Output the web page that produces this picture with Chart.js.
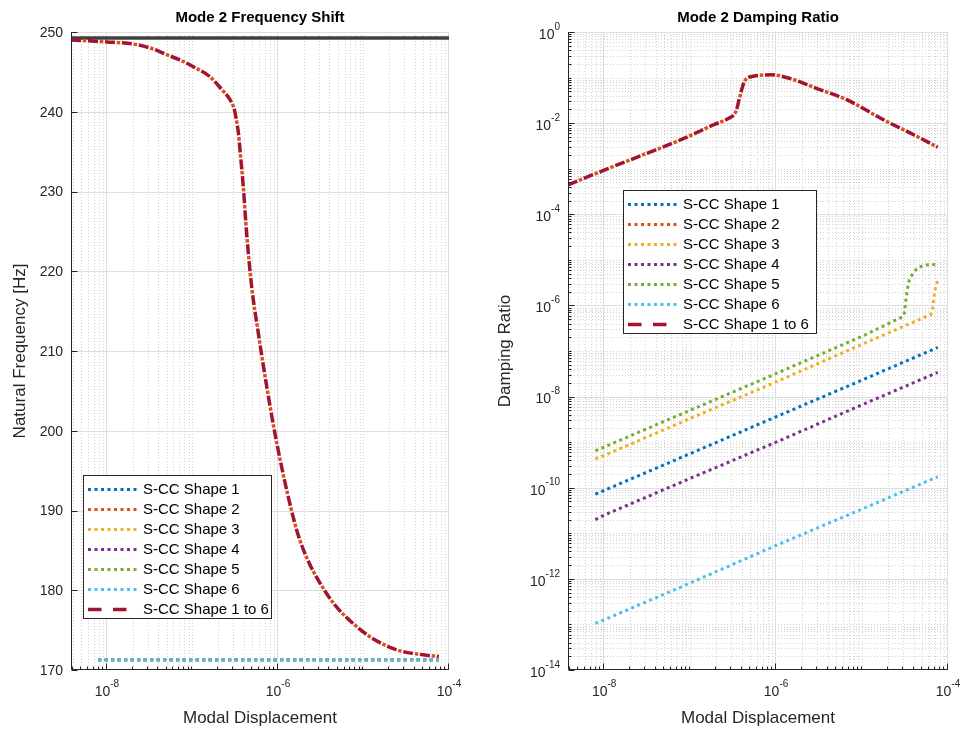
<!DOCTYPE html>
<html>
<head>
<meta charset="utf-8">
<script src="https://cdn.jsdelivr.net/npm/chart.js@4.4.1/dist/chart.umd.min.js"></script>
<style>
  html, body { margin: 0; padding: 0; background: #fff; }
  #wrap { position: relative; width: 964px; height: 732px; }
  .pane { position: absolute; top: 0; width: 482px; height: 732px; }
</style>
</head>
<body>
<div id="wrap">
  <div class="pane" style="left:0"><canvas id="freqChart" width="482" height="732"></canvas></div>
  <div class="pane" style="left:482px"><canvas id="dampChart" width="482" height="732"></canvas></div>
</div>
<script>
// ---- values ----
const shapeNames = ['S-CC Shape 1', 'S-CC Shape 2', 'S-CC Shape 3', 'S-CC Shape 4', 'S-CC Shape 5', 'S-CC Shape 6', 'S-CC Shape 1 to 6'];
const shapeColors = ['#0072BD', '#D95319', '#EDB120', '#7E2F8E', '#77AC30', '#4DBEEE', '#A2142F'];

// tick labels
const xTickExps = [-8, -6, -4];
const freqTicks = [170, 180, 190, 200, 210, 220, 230, 240, 250];
const dampTickExps = [-14, -12, -10, -8, -6, -4, -2, 0];

// left panel: natural frequency [Hz]
const linearX = [3.8e-9, 1e-4];
const linearFreq = [249.25, 249.25];

const flatX = [7.9e-9, 1e-7, 1e-6, 1e-5, 7.6e-5];
const freqShape1 = [171.3, 171.3, 171.3, 171.3, 171.3];
const freqShape3 = [171.3, 171.3, 171.3, 171.3, 171.3];
const freqShape4 = [171.3, 171.3, 171.3, 171.3, 171.3];
const freqShape5 = [171.3, 171.3, 171.3, 171.3, 171.3];
const freqShape6 = [171.3, 171.3, 171.3, 171.3, 171.3];

const coupledFreqX = [3.8e-9, 1e-8, 2e-8, 3.4e-8, 4.9e-8, 7.1e-8, 1e-7, 1.6e-7, 2.2e-7, 2.6e-7, 2.95e-7, 3.1e-7, 3.25e-7,
  3.45e-7, 3.6e-7, 3.93e-7, 4.3e-7, 4.92e-7, 5.9e-7, 7.4e-7, 9.2e-7, 1.32e-6, 1.8e-6, 3.7e-6, 9.1e-6, 2.2e-5, 5e-5, 7.6e-5];
const freqCoupled = [249.0, 248.75, 248.5, 247.9, 247.2, 246.5, 245.7, 244.4, 242.8, 241.9, 240.9, 240.2, 239.1,
  237.3, 235.2, 230.6, 224.8, 218.1, 212.2, 205.5, 199.7, 191.7, 186.3, 179.6, 175.1, 172.7, 171.9, 171.7];
// shape 2 sits right on the combined curve
const freqShape2 = freqCoupled.slice();

// right panel: damping ratio
const dampX = [7.9e-9, 1e-8, 1e-7, 1e-6, 1e-5, 7.6e-5];
const dampShape1 = [7.2e-11, 8.7e-11, 5.6e-10, 3.6e-9, 2.3e-8, 1.2e-7];
const dampShape4 = [2.0e-11, 2.5e-11, 1.6e-10, 1.0e-9, 6.6e-9, 3.4e-8];
const dampShape6 = [1.05e-13, 1.26e-13, 8.1e-13, 5.4e-12, 3.4e-11, 1.74e-10];
const dampX3 = [7.9e-9, 1e-8, 1e-7, 1e-6, 1e-5, 6.3e-5, 6.6e-5, 6.8e-5, 7.0e-5, 7.2e-5, 7.6e-5];
const dampShape3 = [4.3e-10, 5.1e-10, 3.3e-9, 2.1e-8, 1.4e-7, 6.3e-7, 8.5e-7, 1.3e-6, 2.0e-6, 2.6e-6, 3.5e-6];
const dampX5 = [7.9e-9, 1e-8, 1e-7, 1e-6, 1e-5, 3.0e-5, 3.1e-5, 3.24e-5, 3.4e-5, 3.55e-5, 3.9e-5, 4.4e-5, 5.2e-5, 6.2e-5, 7.6e-5];
const dampShape5 = [6.5e-10, 7.8e-10, 5.0e-9, 3.2e-8, 2.1e-7, 5.7e-7, 6.6e-7, 1.35e-6, 2.5e-6, 3.7e-6, 5.0e-6, 6.6e-6, 7.6e-6, 7.9e-6, 7.8e-6];

const coupledDampX = [3.8e-9, 1e-8, 2.8e-8, 8.2e-8, 1.85e-7, 3.03e-7, 3.25e-7, 3.47e-7, 3.7e-7, 3.98e-7, 4.25e-7, 4.54e-7, 5.42e-7,
  8.9e-7, 1.46e-6, 2.99e-6, 6.7e-6, 1.8e-5, 4.04e-5, 7.6e-5];
const dampCoupled = [4.4e-4, 9.3e-4, 2.0e-3, 4.5e-3, 9.1e-3, 1.38e-2, 1.55e-2, 1.95e-2, 3.2e-2, 5.4e-2, 8.0e-2, 9.5e-2, 0.107,
  0.115, 0.095, 0.0575, 0.0324, 0.0117, 5.5e-3, 2.95e-3];
const dampShape2 = dampCoupled.slice();

// ---- helpers ----
const FONT = '"Liberation Sans", Arial, sans-serif';
const AX = '#262626';

function pts(xs, ys) {
  return xs.map(function(x, i) { return { x: x, y: ys[i] }; });
}

function shapeSet(i, xs, ys) {
  const set = {
    label: shapeNames[i],
    data: pts(xs, ys),
    borderColor: shapeColors[i],
    borderWidth: 3,
    borderDash: [3, 3.5],
    borderCapStyle: 'butt',
    pointRadius: 0,
    fill: false,
    tension: 0,
    order: 6 - i
  };
  if (i === 6) {
    // combined curve: dashed
    set.borderWidth = 3.5;
    set.borderDash = [10, 7];
    set.cubicInterpolationMode = 'monotone';
    set.order = 1;
  }
  if (i === 1) {
    // shape 2 runs along the combined curve, its dots land in the dash gaps
    set.borderWidth = 3.5;
    set.borderDash = [3.5, 13.5];
    set.borderDashOffset = -11.75;
    set.cubicInterpolationMode = 'monotone';
    set.order = 0;
  }
  return set;
}

// 10^n label with a raised exponent
function powLabel(ctx, exp, x, y, align) {
  const base = '10', sup = String(exp);
  ctx.font = '14px ' + FONT;
  const wb = ctx.measureText(base).width;
  ctx.font = '10px ' + FONT;
  const ws = ctx.measureText(sup).width;
  const x0 = align === 'center' ? x - (wb + ws) / 2 : x - wb - ws;
  ctx.textAlign = 'left';
  ctx.textBaseline = 'middle';
  ctx.font = '14px ' + FONT;
  ctx.fillText(base, x0, y);
  ctx.font = '10px ' + FONT;
  ctx.fillText(sup, x0 + wb, y - 8);
}

function logPositions(scale, majorExps) {
  const out = [];
  for (let e = -15; e <= 0; e++) {
    for (let m = 1; m <= 9; m++) {
      const v = m * Math.pow(10, e);
      if (v < scale.min * 0.999 || v > scale.max * 1.001) continue;
      out.push({ v: v, major: m === 1 && majorExps.indexOf(e) >= 0 });
    }
  }
  return out;
}

function makeDecor(cfg) {
  return {
    id: 'decor',
    beforeDatasetsDraw: function(chart) {
      const ctx = chart.ctx, a = chart.chartArea;
      const xs = chart.scales.x, ys = chart.scales.y;
      const xp = logPositions(xs, xTickExps);
      const yp = cfg.yLog ? logPositions(ys, dampTickExps) : freqTicks.map(function(v) { return { v: v, major: true }; });
      ctx.save();
      ctx.beginPath();
      ctx.rect(a.left, a.top - 1, a.right - a.left + 1, a.bottom - a.top + 1);
      ctx.clip();
      ctx.lineWidth = 1;
      // minor grid
      ctx.strokeStyle = '#d2d2d2';
      ctx.setLineDash([1, 2]);
      ctx.beginPath();
      xp.forEach(function(p) {
        if (p.major) return;
        const px = Math.round(xs.getPixelForValue(p.v)) + 0.5;
        ctx.moveTo(px, a.top); ctx.lineTo(px, a.bottom);
      });
      yp.forEach(function(p) {
        if (p.major) return;
        const py = Math.round(ys.getPixelForValue(p.v)) + 0.5;
        ctx.moveTo(a.left, py); ctx.lineTo(a.right, py);
      });
      ctx.stroke();
      // major grid
      ctx.setLineDash([]);
      ctx.strokeStyle = '#dedede';
      ctx.beginPath();
      xp.forEach(function(p) {
        if (!p.major) return;
        const px = Math.round(xs.getPixelForValue(p.v)) - 0.5;
        ctx.moveTo(px, a.top); ctx.lineTo(px, a.bottom);
      });
      yp.forEach(function(p) {
        if (!p.major) return;
        const py = Math.round(ys.getPixelForValue(p.v)) + 0.5;
        ctx.moveTo(a.left, py); ctx.lineTo(a.right, py);
      });
      ctx.stroke();
      ctx.restore();
    },
    afterDatasetsDraw: function(chart) {
      const ctx = chart.ctx, a = chart.chartArea;
      const xs = chart.scales.x, ys = chart.scales.y;
      const L = Math.round(a.left) + 0.5, B = Math.round(a.bottom) - 0.5;
      ctx.save();
      ctx.strokeStyle = AX;
      ctx.fillStyle = AX;
      ctx.lineWidth = 1;
      ctx.setLineDash([]);
      // axis lines
      ctx.beginPath();
      ctx.moveTo(L, a.top); ctx.lineTo(L, B); ctx.lineTo(a.right, B);
      ctx.stroke();
      // x ticks (inward)
      ctx.beginPath();
      logPositions(xs, xTickExps).forEach(function(p) {
        const px = Math.round(xs.getPixelForValue(p.v)) - 0.5;
        ctx.moveTo(px, B); ctx.lineTo(px, B - (p.major ? 6 : 3));
      });
      // y ticks
      const yp = cfg.yLog ? logPositions(ys, dampTickExps) : freqTicks.map(function(v) { return { v: v, major: true }; });
      yp.forEach(function(p) {
        const py = Math.round(ys.getPixelForValue(p.v)) + 0.5;
        ctx.moveTo(L, py); ctx.lineTo(L + (p.major ? 6 : 3), py);
      });
      ctx.stroke();
      // tick labels
      xTickExps.forEach(function(e) {
        powLabel(ctx, e, xs.getPixelForValue(Math.pow(10, e)), a.bottom + 22, 'center');
      });
      if (cfg.yLog) {
        dampTickExps.forEach(function(e) {
          powLabel(ctx, e, a.left - 8, ys.getPixelForValue(Math.pow(10, e)) + 3, 'right');
        });
      } else {
        ctx.font = '14px ' + FONT;
        ctx.textAlign = 'right';
        ctx.textBaseline = 'middle';
        freqTicks.forEach(function(v) {
          ctx.fillText(String(v), a.left - 8, ys.getPixelForValue(v) + 1);
        });
      }
      // titles
      const cx = (a.left + a.right) / 2;
      ctx.textAlign = 'center';
      ctx.textBaseline = 'middle';
      ctx.fillStyle = '#000';
      ctx.font = 'bold 15px ' + FONT;
      ctx.fillText(cfg.title, cx, 18);
      ctx.fillStyle = AX;
      ctx.font = '17px ' + FONT;
      ctx.fillText('Modal Displacement', cx, 718);
      ctx.save();
      ctx.translate(cfg.yTitleX, (a.top + a.bottom) / 2);
      ctx.rotate(-Math.PI / 2);
      ctx.fillText(cfg.yTitle, 0, 0);
      ctx.restore();
      // legend box
      const lg = cfg.legend;
      ctx.fillStyle = '#fff';
      ctx.fillRect(lg.x, lg.y, lg.w, lg.h);
      ctx.strokeStyle = AX;
      ctx.lineWidth = 1;
      ctx.strokeRect(lg.x + 0.5, lg.y + 0.5, lg.w, lg.h);
      ctx.font = '15px ' + FONT;
      ctx.textAlign = 'left';
      ctx.textBaseline = 'middle';
      shapeNames.forEach(function(name, i) {
        const ry = Math.round(lg.y + 13.5 + i * 20) + 0.5;
        ctx.strokeStyle = shapeColors[i];
        ctx.lineCap = 'butt';
        ctx.beginPath();
        if (i === 6) {
          ctx.lineWidth = 3.5;
          ctx.setLineDash([13.5, 11.5]);
          ctx.moveTo(lg.x + 5, ry); ctx.lineTo(lg.x + 45, ry);
        } else {
          ctx.lineWidth = 3;
          ctx.setLineDash([3, 3.5]);
          ctx.moveTo(lg.x + 5, ry); ctx.lineTo(lg.x + 57, ry);
        }
        ctx.stroke();
        ctx.setLineDash([]);
        ctx.fillStyle = '#000';
        ctx.fillText(name, lg.x + 60, ry);
      });
      ctx.restore();
    }
  };
}

function baseOptions(pad, yWidth, yScale) {
  return {
    responsive: false,
    animation: false,
    events: [],
    layout: { padding: pad },
    plugins: { legend: { display: false }, title: { display: false }, tooltip: { enabled: false } },
    scales: {
      x: {
        type: 'logarithmic', min: 3.8e-9, max: 1e-4,
        grid: { display: false }, border: { display: false }, ticks: { display: false },
        afterFit: function(s) { s.height = 62; }
      },
      y: Object.assign({
        grid: { display: false }, border: { display: false }, ticks: { display: false },
        afterFit: function(s) { s.width = yWidth; }
      }, yScale)
    }
  };
}

// ---- left: frequency shift ----
new Chart(document.getElementById('freqChart').getContext('2d'), {
  type: 'line',
  data: {
    datasets: [
      shapeSet(0, flatX, freqShape1),
      shapeSet(1, coupledFreqX, freqShape2),
      shapeSet(2, flatX, freqShape3),
      shapeSet(3, flatX, freqShape4),
      shapeSet(4, flatX, freqShape5),
      shapeSet(5, flatX, freqShape6),
      shapeSet(6, coupledFreqX, freqCoupled),
      {
        label: 'Linear',
        data: pts(linearX, linearFreq),
        borderColor: '#404040', borderWidth: 3.5, pointRadius: 0, fill: false, order: 7
      }
    ]
  },
  options: baseOptions({ left: 0, right: 33, top: 32, bottom: 0 }, 71, { type: 'linear', min: 170, max: 250 }),
  plugins: [makeDecor({
    title: 'Mode 2 Frequency Shift',
    yTitle: 'Natural Frequency [Hz]',
    yTitleX: 20,
    yLog: false,
    legend: { x: 83, y: 475, w: 188, h: 143 }
  })]
});

// ---- right: damping ratio ----
new Chart(document.getElementById('dampChart').getContext('2d'), {
  type: 'line',
  data: {
    datasets: [
      shapeSet(0, dampX, dampShape1),
      shapeSet(1, coupledDampX, dampShape2),
      shapeSet(2, dampX3, dampShape3),
      shapeSet(3, dampX, dampShape4),
      shapeSet(4, dampX5, dampShape5),
      shapeSet(5, dampX, dampShape6),
      shapeSet(6, coupledDampX, dampCoupled)
    ]
  },
  options: baseOptions({ left: 0, right: 16, top: 32, bottom: 0 }, 86, { type: 'logarithmic', min: 1e-14, max: 1 }),
  plugins: [makeDecor({
    title: 'Mode 2 Damping Ratio',
    yTitle: 'Damping Ratio',
    yTitleX: 23,
    yLog: true,
    legend: { x: 141, y: 190, w: 193, h: 143 }
  })]
});
</script>
</body>
</html>
